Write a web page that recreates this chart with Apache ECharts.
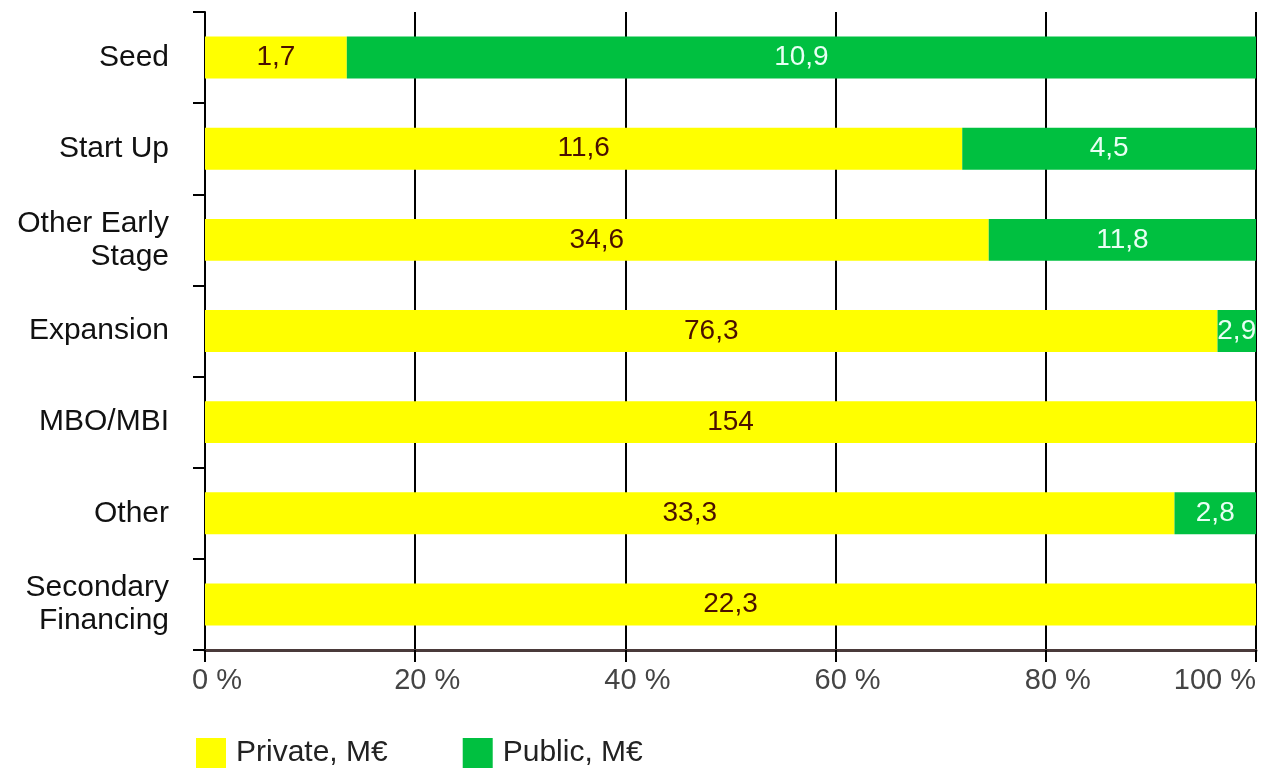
<!DOCTYPE html>
<html>
<head>
<meta charset="utf-8">
<script src="https://cdn.jsdelivr.net/npm/echarts@6/dist/echarts.min.js"></script>
<style>
  html, body { margin: 0; padding: 0; background: #ffffff; }
  #chart { width: 1263px; height: 769px; }
</style>
</head>
<body>
<div id="chart"></div>
<script>
// Investment stages, top to bottom
const categories = ['Seed', 'Start Up', 'Other Early\nStage', 'Expansion', 'MBO/MBI', 'Other', 'Secondary\nFinancing'];
// Amounts in M€
const privateValues = [1.7, 11.6, 34.6, 76.3, 154, 33.3, 22.3];
const publicValues = [10.9, 4.5, 11.8, 2.9, 0, 2.8, 0];
const seriesNames = ['Private, M€', 'Public, M€'];

// Shares of each stage's total, used for the 100 % stacked bars
const totals = categories.map((_, i) => privateValues[i] + publicValues[i]);
const share = (vals) => vals.map((v, i) => ({ value: v / totals[i] * 100, raw: v }));

const fmt = (v) => String(v).replace('.', ',');

const chart = echarts.init(document.getElementById('chart'));
chart.setOption({
  animation: false,
  backgroundColor: '#ffffff',
  textStyle: { fontFamily: 'Liberation Sans, Arial, sans-serif' },
  grid: { left: 205, right: 7, top: 12, bottom: 119, containLabel: false },
  legend: {
    left: 191, top: 733,
    itemWidth: 30, itemHeight: 30, itemGap: 75,
    icon: 'rect',
    textStyle: { fontSize: 30, color: '#222', padding: [0, 0, 0, 5] },
    data: seriesNames
  },
  xAxis: {
    type: 'value', min: 0, max: 100, interval: 20,
    axisLine: { show: true, lineStyle: { color: '#4a3a3a', width: 3 } },
    axisTick: { show: true, length: 12, lineStyle: { color: '#000', width: 2 } },
    splitLine: { show: true, lineStyle: { color: '#000', width: 2 } },
    axisLabel: {
      fontSize: 29, color: '#444', margin: 16,
      padding: [0, 0, 0, 24],
      alignMaxLabel: 'right',
      formatter: (v) => v + ' %'
    }
  },
  yAxis: {
    type: 'category', inverse: true, data: categories,
    axisLine: { show: true, lineStyle: { color: '#000', width: 2 } },
    axisTick: { show: true, length: 12, lineStyle: { color: '#000', width: 2 } },
    axisLabel: { fontSize: 30, color: '#111', margin: 36, lineHeight: 33, align: 'right', padding: [0, 0, 6, 0] }
  },
  series: [
    {
      name: seriesNames[0], type: 'bar', stack: 'all', barWidth: '46%',
      itemStyle: { color: '#ffff00' },
      label: {
        show: true, position: 'inside', fontSize: 28, color: '#4a1000',
        formatter: (p) => fmt(p.data.raw)
      },
      data: share(privateValues)
    },
    {
      name: seriesNames[1], type: 'bar', stack: 'all', barWidth: '46%',
      itemStyle: { color: '#00c040' },
      label: {
        show: true, position: 'inside', fontSize: 28, color: '#e8fff4',
        formatter: (p) => p.data.raw > 0 ? fmt(p.data.raw) : ''
      },
      data: share(publicValues)
    }
  ]
});
</script>
</body>
</html>
